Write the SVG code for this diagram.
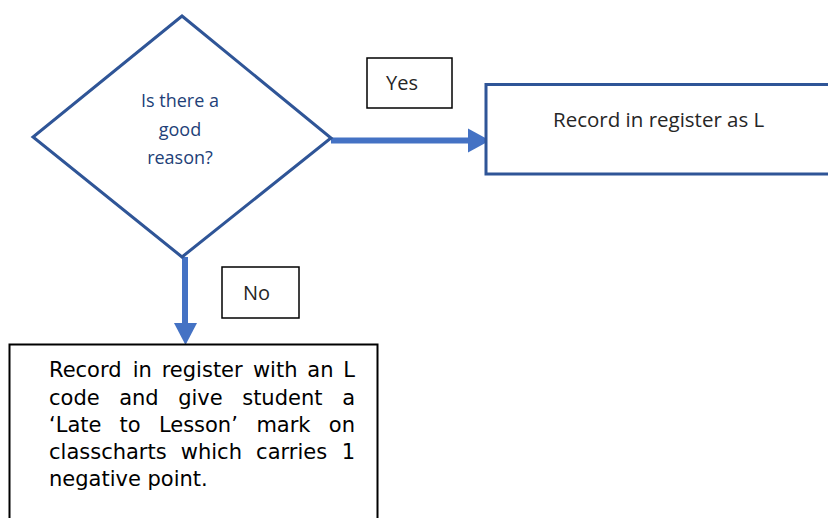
<svg xmlns="http://www.w3.org/2000/svg" width="828" height="518" viewBox="0 0 828 518">
<defs>
<style>
.blue{fill:#ffffff;stroke:#2F5597;stroke-width:3}
.lbl{fill:#ffffff;stroke:#000000;stroke-width:1.5}
.cal{font-family:"Open Sans","Liberation Sans",sans-serif;fill:#262626}
.dia{font-family:"Open Sans","Liberation Sans",sans-serif;fill:#223F78;font-size:18px;text-anchor:middle}
.ver{font-family:"DejaVu Sans","Liberation Sans",sans-serif;font-size:21px;fill:#000000}
.shaft{stroke:#4472C4;stroke-width:6;fill:none}
.head{fill:#4472C4}
</style>
</defs>
<rect width="828" height="518" fill="#ffffff"/>
<g id="connectors">
<line class="shaft" x1="331" y1="140.5" x2="470" y2="140.5"/>
<polygon class="head" points="468,128.5 490,140.5 468,152.5"/>
<line class="shaft" x1="185" y1="257" x2="185" y2="325"/>
<polygon class="head" points="174,323 197,323 185.5,345"/>
</g>
<g id="decision">
<polygon class="blue" points="182,16 331,138 182,257 33,137"/>
<text class="dia" x="180" y="107">Is there a</text>
<text class="dia" x="180" y="136">good</text>
<text class="dia" x="180" y="164">reason?</text>
</g>
<g id="yes-label">
<rect class="lbl" x="367" y="58" width="85" height="50"/>
<text class="cal" x="386" y="90" font-size="20">Yes</text>
</g>
<g id="record-L">
<rect class="blue" x="486" y="84.5" width="350" height="89.5"/>
<text class="cal" x="553" y="127" font-size="20.5">Record in register as L</text>
</g>
<g id="no-label">
<rect class="lbl" x="222" y="267" width="77" height="51"/>
<text class="cal" x="243" y="300" font-size="20">No</text>
</g>
<g id="record-late">
<rect x="9.5" y="344.5" width="368" height="190" fill="#ffffff" stroke="#000000" stroke-width="2"/>
<text class="ver" y="377"><tspan x="49">Record</tspan><tspan x="132.7">in</tspan><tspan x="161.7">register</tspan><tspan x="252.9">with</tspan><tspan x="307.3">an</tspan><tspan x="355" text-anchor="end">L</tspan></text>
<text class="ver" y="404.5"><tspan x="49">code</tspan><tspan x="119.2">and</tspan><tspan x="178.2">give</tspan><tspan x="242.2">student</tspan><tspan x="355" text-anchor="end">a</tspan></text>
<text class="ver" y="432"><tspan x="49">‘Late</tspan><tspan x="119.6">to</tspan><tspan x="158.9">Lesson’</tspan><tspan x="256.4">mark</tspan><tspan x="355" text-anchor="end">on</tspan></text>
<text class="ver" y="459"><tspan x="49">classcharts</tspan><tspan x="180.8">which</tspan><tspan x="256.1">carries</tspan><tspan x="355" text-anchor="end">1</tspan></text>
<text class="ver" x="49" y="486">negative point.</text>
</g>
</svg>
